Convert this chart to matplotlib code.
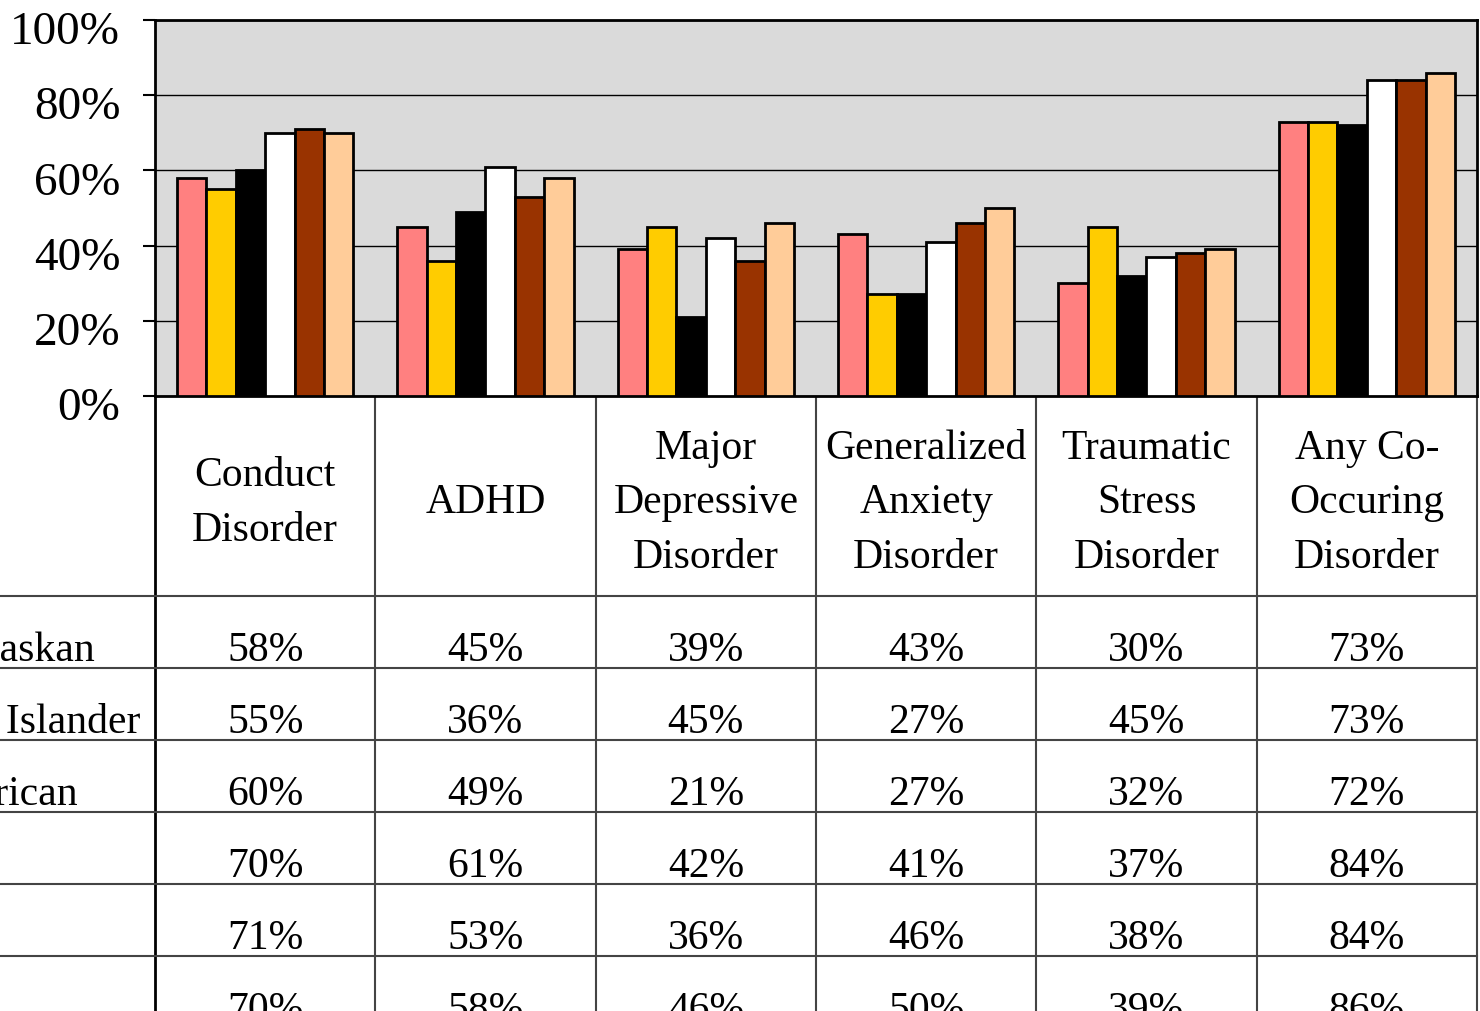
import matplotlib
matplotlib.use("Agg")
import numpy as np
from matplotlib import pyplot as plt
from matplotlib import transforms

plt.rcParams["font.family"] = ["Liberation Serif", "DejaVu Serif"]

# categories and series
categories = ["Conduct\nDisorder", "ADHD", "Major\nDepressive\nDisorder",
              "Generalized\nAnxiety\nDisorder", "Traumatic\nStress\nDisorder",
              "Any Co-\nOccuring\nDisorder"]
groups = ["American Indian/Alaskan", "Asian/Pacific Islander", "African American",
          "White", "Hispanic", "Other"]
am_indian = [58, 45, 39, 43, 30, 73]
asian_pi = [55, 36, 45, 27, 45, 73]
african_am = [60, 49, 21, 27, 32, 72]
white = [70, 61, 42, 41, 37, 84]
hispanic = [71, 53, 36, 46, 38, 84]
other = [70, 58, 46, 50, 39, 86]
series = [am_indian, asian_pi, african_am, white, hispanic, other]
colors = ["#FF8080", "#FFCC00", "#000000", "#FFFFFF", "#993300", "#FFCC99"]
yticks = [0, 20, 40, 60, 80, 100]

W, H = 1480, 1012
fig = plt.figure(figsize=(W / 100, H / 100), dpi=100)

# overlay in pixel coordinates for the data table
ov = fig.add_axes([0, 0, 1, 1])
ov.set_xlim(0, W)
ov.set_ylim(H, 0)
ov.axis("off")

ax = fig.add_axes([155 / W, 1 - 397 / H, 1322 / W, 376 / H])
ax.set_facecolor("#DADADA")
x = np.arange(len(categories))
n = len(series)
bw = 0.8 / n
for i, vals in enumerate(series):
    ax.bar(x - 0.4 + bw * (i + 0.5), vals, bw, color=colors[i],
           edgecolor="black", linewidth=2, zorder=3)
ax.set_xlim(-0.5, len(categories) - 0.5)
ax.set_ylim(0, 100)
ax.set_yticks(yticks)
ax.set_yticklabels([f"{t}%" for t in yticks], fontsize=34)
ax.set_xticks([])
ax.yaxis.grid(True, color="black", linewidth=1)
ax.set_axisbelow(True)
ax.tick_params(axis="y", length=9, width=1.5, pad=16)
for s in ax.spines.values():
    s.set_linewidth(2)
for lab in ax.get_yticklabels():
    lab.set_transform(lab.get_transform() + transforms.ScaledTranslation(0, -0.07, fig.dpi_scale_trans))

# table: x in category units, y in pixels
tr = transforms.blended_transform_factory(ax.transData, ov.transData)
header_top, header_bot, row_h = 397, 597, 72
for b in np.arange(len(categories) + 1) - 0.5:
    ov.plot([b, b], [header_top, H + 10], transform=tr,
            color="black" if b == -0.5 else "#444444", lw=2 if b == -0.5 else 1.5,
            clip_on=False)
for r in range(len(groups) + 1):
    yy = header_bot + r * row_h
    ov.plot([0, 1477], [yy, yy], color="#444444", lw=1.5)

for j, c in enumerate(categories):
    ov.text(j, 503, c, transform=tr, ha="center",
            va="center", fontsize=30, linespacing=1.55)

label_end = [95, 140, 78, -60, -60, -60]
for r, g in enumerate(groups):
    yc = header_bot + r * row_h + row_h / 2 + 18
    ov.text(label_end[r], yc, g, ha="right", va="center", fontsize=30)
    for j in range(len(categories)):
        ov.text(j, yc, f"{series[r][j]}%", transform=tr, ha="center",
                va="center", fontsize=30)

fig.savefig("out.png", dpi=100)
